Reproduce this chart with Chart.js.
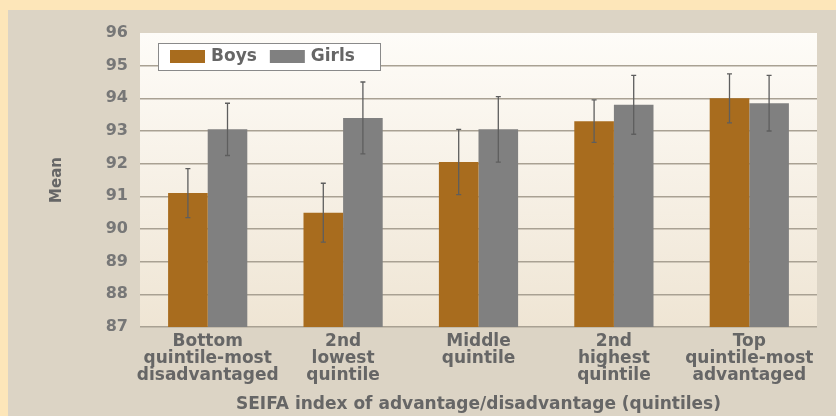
<!DOCTYPE html>
<html>
<head>
<meta charset="utf-8">
<title>Mean by SEIFA quintile</title>
<script src="https://cdn.jsdelivr.net/npm/chart.js@4.4.1/dist/chart.umd.min.js"></script>
<style>
  html, body { margin: 0; padding: 0; background: #fde6b9; }
  #chart { display: block; }
</style>
</head>
<body>
<canvas id="chart" width="836" height="416"></canvas>
<script>
// Quintile categories (multi-line tick labels)
const quintiles = [
  ['Bottom', 'quintile-most', 'disadvantaged'],
  ['2nd', 'lowest', 'quintile'],
  ['Middle', 'quintile'],
  ['2nd', 'highest', 'quintile'],
  ['Top', 'quintile-most', 'advantaged']
]

// Mean scores and half-width of the error bars
const boysMean = [91.1, 90.5, 92.05, 93.3, 94.0]
const girlsMean = [93.05, 93.4, 93.05, 93.8, 93.85]
const boysErr = [0.75, 0.9, 1.0, 0.65, 0.75]
const girlsErr = [0.8, 1.1, 1.0, 0.9, 0.85]

const yMin = 87
const yMax = 96

const BOYS = '#a86c1e'
const GIRLS = '#808080'
const TEXT = '#666666'

// cream frame, beige panel and shaded plot area
const backdrop = {
  id: 'backdrop',
  beforeDraw(chart) {
    const { ctx, chartArea: a } = chart
    ctx.save()
    ctx.fillStyle = '#fde6b9'
    ctx.fillRect(0, 0, chart.width, chart.height)
    ctx.fillStyle = '#dcd4c5'
    ctx.fillRect(8, 10, chart.width - 8, chart.height - 10)
    const g = ctx.createLinearGradient(0, a.top, 0, a.bottom)
    g.addColorStop(0, '#fefcf8')
    g.addColorStop(1, '#efe5d4')
    ctx.fillStyle = g
    ctx.fillRect(a.left, a.top, a.right - a.left, a.bottom - a.top)
    ctx.restore()
  }
}

// vertical error bars on top of every bar
const errorBars = {
  id: 'errorBars',
  afterDatasetsDraw(chart) {
    const { ctx } = chart
    const y = chart.scales.y
    ctx.save()
    ctx.strokeStyle = '#5e5e5e'
    ctx.lineWidth = 1.3
    chart.data.datasets.forEach((ds, i) => {
      const meta = chart.getDatasetMeta(i)
      meta.data.forEach((bar, j) => {
        const v = ds.data[j], e = ds.errors[j]
        const top = y.getPixelForValue(v + e)
        const bot = y.getPixelForValue(v - e)
        ctx.beginPath()
        ctx.moveTo(bar.x, top)
        ctx.lineTo(bar.x, bot)
        ctx.moveTo(bar.x - 2.5, top)
        ctx.lineTo(bar.x + 2.5, top)
        ctx.moveTo(bar.x - 2.5, bot)
        ctx.lineTo(bar.x + 2.5, bot)
        ctx.stroke()
      })
    })
    ctx.restore()
  }
}

// boxed legend inside the top-left of the plot area
const boxLegend = {
  id: 'boxLegend',
  afterDraw(chart) {
    const { ctx, chartArea: a } = chart
    const x0 = a.left + 18, y0 = a.top + 10
    ctx.save()
    ctx.fillStyle = '#ffffff'
    ctx.fillRect(x0, y0, 222, 27)
    ctx.strokeStyle = '#8a8a8a'
    ctx.lineWidth = 1
    ctx.strokeRect(x0 + 0.5, y0 + 0.5, 222, 27)
    ctx.font = 'bold 17px "DejaVu Sans"'
    ctx.textBaseline = 'middle'
    let x = x0 + 12
    chart.data.datasets.forEach(ds => {
      ctx.fillStyle = ds.backgroundColor
      ctx.fillRect(x, y0 + 7, 35, 13)
      ctx.fillStyle = TEXT
      ctx.fillText(ds.label, x + 41, y0 + 14)
      x += 41 + ctx.measureText(ds.label).width + 13
    })
    ctx.restore()
  }
}

new Chart(document.getElementById('chart'), {
  type: 'bar',
  data: {
    labels: quintiles,
    datasets: [
      { label: 'Boys', data: boysMean, errors: boysErr, backgroundColor: BOYS },
      { label: 'Girls', data: girlsMean, errors: girlsErr, backgroundColor: GIRLS }
    ]
  },
  options: {
    responsive: false,
    animation: false,
    layout: { padding: { left: 48, top: 33, right: 19, bottom: 1 } },
    datasets: { bar: { categoryPercentage: 0.585, barPercentage: 1 } },
    plugins: { legend: { display: false }, tooltip: { enabled: false } },
    scales: {
      x: {
        grid: { display: false },
        border: { display: false },
        ticks: {
          color: TEXT,
          padding: -2,
          font: { family: 'DejaVu Sans', weight: 'bold', size: 17, lineHeight: 1.0 },
          maxRotation: 0,
          autoSkip: false
        },
        title: {
          display: true,
          text: 'SEIFA index of advantage/disadvantage (quintiles)',
          color: TEXT,
          font: { family: 'DejaVu Sans', weight: 'bold', size: 17 },
          padding: 0
        },
        afterFit(scale) { scale.height = 88 }
      },
      y: {
        min: yMin,
        max: yMax,
        border: { display: false },
        grid: {
          drawTicks: false,
          lineWidth: 1.5,
          color: c => (c.tick && c.tick.value === yMax ? 'rgba(0,0,0,0)' : '#a9a193')
        },
        ticks: {
          stepSize: 1,
          padding: 12,
          color: '#777777',
          font: { family: 'DejaVu Sans', weight: 'bold', size: 16 }
        },
        title: {
          display: true,
          text: 'Mean',
          color: TEXT,
          font: { family: 'DejaVu Sans', weight: 'bold', size: 15 },
          padding: 0
        },
        afterFit(scale) { scale.width = 92 }
      }
    }
  },
  plugins: [backdrop, errorBars, boxLegend]
})
</script>
</body>
</html>
